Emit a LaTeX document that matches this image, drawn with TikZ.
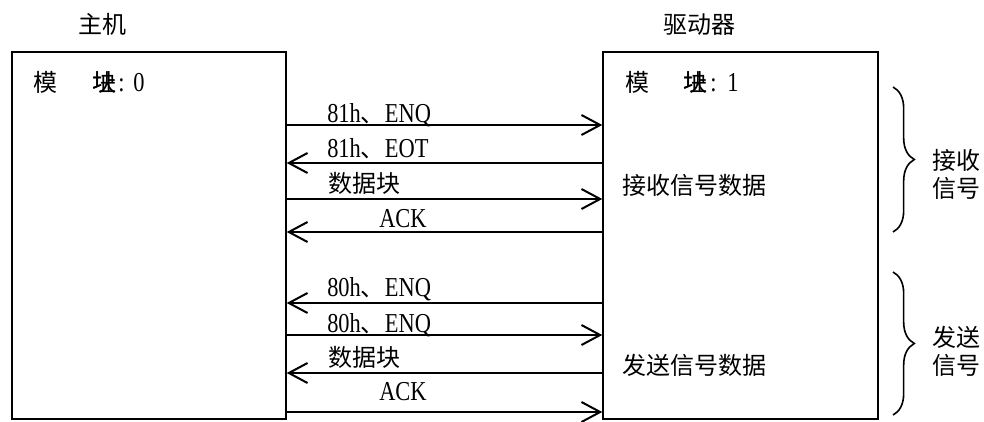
\documentclass[tikz,border=0pt]{standalone}
\usepackage{fontspec}
\setmainfont{Liberation Serif}[FakeStretch=0.82]
\newfontfamily\cjk{Noto Sans CJK SC}
\usetikzlibrary{arrows.meta,decorations.pathreplacing}
\begin{document}
\begin{tikzpicture}[x=0.75pt,y=-0.75pt,
  blk/.style={draw,line width=1.1pt,inner sep=0,minimum height=275.25pt},
  cn/.style={inner sep=0,anchor=base west,font=\cjk\fontsize{18pt}{20pt}\selectfont},
  lt/.style={inner sep=0,anchor=base west,font=\fontsize{20.5pt}{22pt}\selectfont},
  arr/.style={line width=1.5pt,-{Straight Barb[length=14pt,width=15pt]}},
  brc/.style={line width=1.2pt,decorate,decoration={brace,amplitude=16pt}}]
\useasboundingbox (0,0) rectangle (984,421);
% boxes
\node[blk,minimum width=205.5pt] (host) at (149,235.5) {};
\node[blk,minimum width=206.25pt] (drv) at (740.5,235.5) {};
% headings
\node[cn] (th) at (78,33) {主机};
\node[cn] (td) at (663,33) {驱动器};
% module labels
\node[cn] (m0a) at (33,91) {模};
\node[cn] (m0b) at (92,91) {址};
\node[cn] (m0c) at (92,91) {块};
\node[lt] (m0d) at (118,91) {:};
\node[lt] (m0e) at (133,91) {0};
\node[cn] (m1a) at (625,91) {模};
\node[cn] (m1b) at (683,91) {址};
\node[cn] (m1c) at (683,91) {块};
\node[lt] (m1d) at (710,91) {:};
\node[lt] (m1e) at (727,91) {1};
% inner texts
\node[cn] (rx) at (622,194) {接收信号数据};
\node[cn] (tx) at (622,374) {发送信号数据};
% arrows, receive group
\draw[arr] (host.east |- 0,125) -- (drv.west |- 0,125);
\draw[arr] (drv.west |- 0,163) -- (host.east |- 0,163);
\draw[arr] (host.east |- 0,199) -- (drv.west |- 0,199);
\draw[arr] (drv.west |- 0,232) -- (host.east |- 0,232);
% arrows, send group
\draw[arr] (drv.west |- 0,303) -- (host.east |- 0,303);
\draw[arr] (host.east |- 0,335) -- (drv.west |- 0,335);
\draw[arr] (drv.west |- 0,373) -- (host.east |- 0,373);
\draw[arr] (host.east |- 0,412) -- (drv.west |- 0,412);
% arrow labels
\node[lt] (a1) at (327,122) {81h{\cjk\fontsize{18pt}{20pt}\selectfont 、}ENQ};
\node[lt] (a2) at (327,157) {81h{\cjk\fontsize{18pt}{20pt}\selectfont 、}EOT};
\node[cn] (a3) at (328,192) {数据块};
\node[lt] (a4) at (379,227) {ACK};
\node[lt] (b1) at (327,296) {80h{\cjk\fontsize{18pt}{20pt}\selectfont 、}ENQ};
\node[lt] (b2) at (327,332) {80h{\cjk\fontsize{18pt}{20pt}\selectfont 、}ENQ};
\node[cn] (b3) at (328,366) {数据块};
\node[lt] (b4) at (379,400) {ACK};
% braces
\coordinate (r1) at (893,87);
\coordinate (r2) at (893,232);
\coordinate (s1) at (893,272);
\coordinate (s2) at (893,415);
\draw[brc] (r1) -- (r2);
\draw[brc] (s1) -- (s2);
\node[cn] (g1) at (932,169) {接收};
\node[cn] (g2) at (932,197) {信号};
\node[cn] (g3) at (932,346) {发送};
\node[cn] (g4) at (932,374) {信号};
\end{tikzpicture}
\end{document}
